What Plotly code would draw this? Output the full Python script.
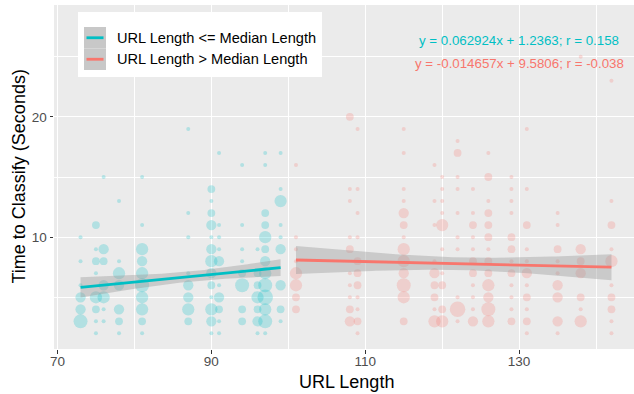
import numpy as np
import plotly.graph_objects as go

# ---------------- data ----------------
# URL Length <= Median Length
teal_x = [73,73,73,73,73,73,
          75,75,75,75,75,75,75,75,
          76,76,76,76,76,76,76,
          78,78,78,78,78,78,78,
          81,81,81,81,81,81,81,81,81,81,
          87,87,87,87,87,87,87,87,
          90,90,90,90,90,90,90,90,90,90,90,90,90,
          91,91,91,91,91,91,91,91,91,91,
          94,94,94,94,94,94,94,94,
          96,96,96,96,96,96,96,
          97,97,97,97,97,97,97,97,97,97,97,97,97,
          99,99,99,99,99,99,99,99,99]
teal_y = [10,8,6,5,4,3,
          11,9,8,7,5,4,3,2,
          15,9,8,6,5,4,3,
          13,8,7,6,4,3,2,
          15,11,9,8,7,6,5,4,3,2,
          19,12,10,7,6,5,4,3,
          14,13,12,11,10,9,8,7,6,5,4,3,2,
          17,11,10,9,8,6,5,4,3,2,
          16,11,9,8,7,6,4,3,
          9,7,6,5,4,3,2,
          17,16,12,11,10,9,8,7,6,5,4,3,2,
          17,14,13,11,10,9,6,4,3]
teal_n = [1,1,1,3,3,5,
          2,1,2,1,4,2,1,1,
          1,3,2,3,4,1,1,
          1,1,4,3,3,2,1,
          1,1,4,3,4,5,4,4,2,1,
          1,1,1,1,3,3,4,2,
          2,1,2,3,1,3,4,3,2,1,4,3,1,
          1,1,1,1,3,1,3,2,1,1,
          1,1,1,1,2,5,2,2,
          1,2,2,4,2,3,1,
          1,1,2,2,4,2,3,4,5,6,4,5,1,
          1,1,4,1,1,3,3,2,1]

# URL Length > Median Length
red_x = [101]*8 + [108]*10 + [109]*11 + [115]*13 + [119]*9 + [120]*10 + [122]*10 + \
        [124]*11 + [126]*13 + [129]*12 + [131]*11 + [135]*9 + [138]*7 + [142]*10
red_y = [16,10,9,8,7,6,5,4,
         20,14,13,10,9,7,6,5,4,3,
         19,14,12,10,8,7,6,5,4,3,2,
         19,17,14,13,12,11,10,9,8,7,6,5,3,
         16,13,11,8,7,6,5,4,3,
         15,14,13,12,11,9,7,6,4,3,
         18,17,15,14,12,10,9,5,4,3,
         14,12,11,10,9,8,7,6,5,4,3,
         17,15,13,12,11,10,9,8,7,6,5,4,3,
         15,14,13,12,10,9,8,7,6,5,4,3,
         19,14,11,9,8,7,6,5,4,3,2,
         12,11,9,8,7,6,5,3,2,
         25,9,8,7,5,4,3,
         23,13,11,9,8,6,5,4,3,2]
red_n = [1,1,1,1,4,4,2,2,
         2,1,1,1,2,1,1,1,2,3,
         1,1,1,1,2,2,2,1,1,2,1,
         1,1,1,1,3,2,1,4,4,3,5,4,2,
         1,1,1,1,3,2,2,1,4,
         1,1,1,1,4,1,1,2,2,4,
         1,2,1,1,1,1,1,1,6,1,
         1,1,2,1,1,2,2,1,1,1,3,
         1,2,1,2,2,2,1,2,2,4,3,5,4,
         1,1,1,1,2,2,1,2,1,1,1,2,
         1,1,2,1,1,3,1,2,1,2,1,
         1,1,2,1,1,3,3,3,1,
         1,3,2,3,2,1,4,
         1,1,2,1,4,1,2,2,1,1]

group_names = ["URL Length <= Median Length", "URL Length > Median Length"]
# fitted coefficients and correlation printed on the chart
fit_slope = [0.062924, -0.014657]
fit_intercept = [1.2363, 9.5806]
fit_r = [0.158, -0.038]

x_ticks = [70, 90, 110, 130]
y_ticks = [10, 20]

# ---------------- style ----------------
COLORS = ["#00BFC4", "#F8766D"]
FONT = "Liberation Sans, Arial, Helvetica, sans-serif"
W, H = 634, 394
L, R, T, B = 54, 0, 5, 45
PW, PH = W - L - R, H - T - B


def px(xp):
    return (xp - L) / PW


def py(yp):
    return (H - B - yp) / PH


def diam(n, nmax=6, dmin=4.0, dmax=15.5):
    n = np.asarray(n, float)
    return np.sqrt(dmin**2 + (n - 1) / (nmax - 1) * (dmax**2 - dmin**2))


def rgba(hexc, a):
    h = hexc.lstrip("#")
    return f"rgba({int(h[0:2],16)},{int(h[2:4],16)},{int(h[4:6],16)},{a})"


groups = [(teal_x, teal_y, teal_n), (red_x, red_y, red_n)]

fig = go.Figure()

# points
for (gx, gy, gn), col, name in zip(groups, COLORS, group_names):
    fig.add_trace(go.Scatter(
        x=gx, y=gy, mode="markers", name=name,
        marker=dict(size=diam(gn), color=rgba(col, 0.35), line=dict(width=0)),
        hoverinfo="skip", showlegend=False))

# confidence bands (from the data, around the printed fit)
for (gx, gy, gn), b1, b0 in zip(groups, fit_slope, fit_intercept):
    x = np.asarray(gx, float); y = np.asarray(gy, float); w = np.asarray(gn, float)
    N = w.sum()
    xbar = (w * x).sum() / N
    sxx = (w * (x - xbar) ** 2).sum()
    resid = y - (b0 + b1 * x)
    s = np.sqrt((w * resid ** 2).sum() / (N - 2))
    xs = np.linspace(x.min(), x.max(), 80)
    fit = b0 + b1 * xs
    half = 1.97 * s * np.sqrt(1 / N + (xs - xbar) ** 2 / sxx)
    fig.add_trace(go.Scatter(
        x=np.concatenate([xs, xs[::-1]]),
        y=np.concatenate([fit + half, (fit - half)[::-1]]),
        fill="toself", fillcolor="rgba(153,153,153,0.4)",
        line=dict(width=0), mode="lines", hoverinfo="skip", showlegend=False))

# fitted lines
for (gx, gy, gn), b1, b0, col in zip(groups, fit_slope, fit_intercept, COLORS):
    xs = np.array([min(gx), max(gx)], float)
    fig.add_trace(go.Scatter(x=xs, y=b0 + b1 * xs, mode="lines",
                             line=dict(color=col, width=2.8),
                             hoverinfo="skip", showlegend=False))

# equation labels
eq_y = [26.35, 24.4]
for b1, b0, r, col, yy in zip(fit_slope, fit_intercept, fit_r, COLORS, eq_y):
    sign = "+" if b0 >= 0 else "-"
    txt = f"y = {b1:.6f}x {sign} {abs(b0):.4f}; r = {r:.3f}"
    fig.add_annotation(x=130, y=yy, xref="x", yref="y", text=txt, showarrow=False,
                       xanchor="center", yanchor="middle",
                       font=dict(family=FONT, size=13.3, color=col))

# manual legend (ggplot style)
shapes = [dict(type="rect", xref="paper", yref="paper", x0=px(78), x1=px(322),
               y0=py(77), y1=py(12), fillcolor="white", line=dict(width=0), layer="above")]
rows = [(27, 48.5), (48.5, 70)]
for (ya, yb), col, name in zip(rows, COLORS, group_names):
    shapes.append(dict(type="rect", xref="paper", yref="paper", x0=px(84), x1=px(106),
                       y0=py(yb), y1=py(ya), fillcolor="#C8C8C8",
                       line=dict(width=0), layer="above"))
    ym = (ya + yb) / 2
    shapes.append(dict(type="line", xref="paper", yref="paper", x0=px(86.5), x1=px(103.5),
                       y0=py(ym), y1=py(ym), line=dict(color=col, width=2.8), layer="above"))
    fig.add_annotation(x=px(115), y=py(ym), xref="paper", yref="paper", text=name,
                       showarrow=False, xanchor="left", yanchor="middle",
                       font=dict(family=FONT, size=14.6, color="black"))

# axis titles
fig.add_annotation(x=px(346), y=py(382), xref="paper", yref="paper", text="URL Length",
                   showarrow=False, xanchor="center", yanchor="middle",
                   font=dict(family=FONT, size=18, color="black"))
fig.add_annotation(x=px(18.5), y=py(177), xref="paper", yref="paper",
                   text="Time to Classify (Seconds)", textangle=-90,
                   showarrow=False, xanchor="center", yanchor="middle",
                   font=dict(family=FONT, size=18, color="black"))

axis_common = dict(
    showgrid=True, gridcolor="white", gridwidth=1.1,
    zeroline=False, showline=False,
    ticks="outside", ticklen=3.5, tickwidth=1.1, tickcolor="#333333",
    tickfont=dict(family=FONT, size=13.5, color="#4D4D4D"),
    tickmode="array",
)
fig.update_xaxes(**axis_common, range=[69.55, 144.93], tickvals=x_ticks,
                 ticktext=[str(v) for v in x_ticks], ticklabelstandoff=-4,
                 minor=dict(tickmode="array", tickvals=[80, 100, 120, 140],
                            showgrid=True, gridcolor="white", gridwidth=0.55, ticks=""))
fig.update_yaxes(**axis_common, range=[0.7, 29.3], tickvals=y_ticks,
                 ticktext=[str(v) for v in y_ticks],
                 minor=dict(tickmode="array", tickvals=[5, 15, 25],
                            showgrid=True, gridcolor="white", gridwidth=0.55, ticks=""))

fig.update_layout(width=W, height=H, autosize=False,
                  margin=dict(l=L, r=R, t=T, b=B, pad=0),
                  plot_bgcolor="#EBEBEB", paper_bgcolor="white",
                  showlegend=False, shapes=shapes,
                  font=dict(family=FONT))

fig.write_html("out.html", config={"displayModeBar": False},
               post_script="document.body.style.margin='0';"
                           "document.body.style.overflow='hidden';")
